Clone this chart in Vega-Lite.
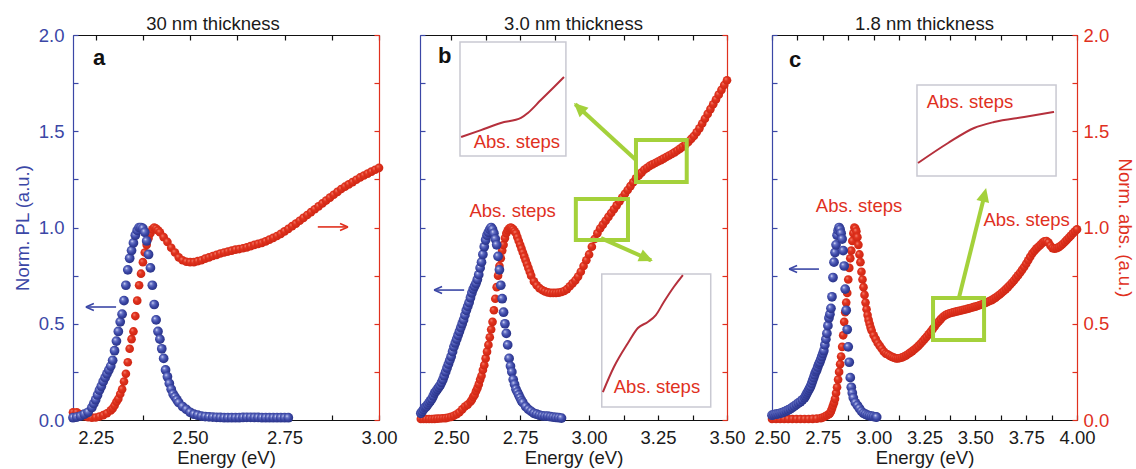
{
"$schema": "https://vega.github.io/schema/vega-lite/v6.json",
"padding": {"left": 13, "top": 14, "right": 2, "bottom": 2},
"config": {
  "font": "Liberation Sans",
  "view": {"stroke": null},
  "axis": {"grid": false, "tickSize": -5, "tickWidth": 1.2, "domainWidth": 1.2, "labelFontSize": 18.5, "titleFontSize": 18.5, "titleFontWeight": "normal", "labelPadding": 14, "labelFlush": false, "labelOverlap": false, "labelFont": "Liberation Sans", "titleFont": "Liberation Sans"},
  "axisBottom": {"labelPadding": 13, "titlePadding": 2},
  "axisRight": {"labelPadding": 11},
  "title": {"fontSize": 18.5, "fontWeight": "normal", "color": "#1a1a1a", "font": "Liberation Sans", "offset": -7},
  "text": {"font": "Liberation Sans"}
},
"datasets": {
  "aPL": [{"e":2.19,"v":0.012},{"e":2.20,"v":0.015},{"e":2.21,"v":0.02},{"e":2.22,"v":0.03},{"e":2.23,"v":0.04},{"e":2.24,"v":0.065},{"e":2.245,"v":0.085},{"e":2.25,"v":0.105},{"e":2.255,"v":0.13},{"e":2.26,"v":0.155},{"e":2.265,"v":0.175},{"e":2.27,"v":0.20},{"e":2.275,"v":0.22},{"e":2.28,"v":0.24},{"e":2.285,"v":0.26},{"e":2.29,"v":0.28},{"e":2.295,"v":0.31},{"e":2.30,"v":0.36},{"e":2.305,"v":0.41},{"e":2.31,"v":0.46},{"e":2.315,"v":0.51},{"e":2.32,"v":0.55},{"e":2.325,"v":0.62},{"e":2.33,"v":0.70},{"e":2.335,"v":0.78},{"e":2.34,"v":0.84},{"e":2.345,"v":0.88},{"e":2.35,"v":0.92},{"e":2.355,"v":0.96},{"e":2.36,"v":0.985},{"e":2.365,"v":1.0},{"e":2.37,"v":1.0},{"e":2.375,"v":0.995},{"e":2.38,"v":0.975},{"e":2.385,"v":0.93},{"e":2.39,"v":0.86},{"e":2.395,"v":0.79},{"e":2.40,"v":0.70},{"e":2.405,"v":0.60},{"e":2.41,"v":0.52},{"e":2.415,"v":0.46},{"e":2.42,"v":0.42},{"e":2.425,"v":0.37},{"e":2.43,"v":0.32},{"e":2.435,"v":0.26},{"e":2.44,"v":0.225},{"e":2.445,"v":0.19},{"e":2.45,"v":0.16},{"e":2.455,"v":0.135},{"e":2.46,"v":0.12},{"e":2.465,"v":0.105},{"e":2.47,"v":0.09},{"e":2.48,"v":0.07},{"e":2.49,"v":0.055},{"e":2.50,"v":0.04},{"e":2.51,"v":0.03},{"e":2.52,"v":0.025},{"e":2.53,"v":0.02},{"e":2.54,"v":0.018},{"e":2.55,"v":0.016},{"e":2.56,"v":0.015},{"e":2.57,"v":0.014},{"e":2.58,"v":0.013},{"e":2.59,"v":0.012},{"e":2.60,"v":0.012},{"e":2.61,"v":0.012},{"e":2.62,"v":0.012},{"e":2.63,"v":0.012},{"e":2.64,"v":0.013},{"e":2.65,"v":0.014},{"e":2.66,"v":0.014},{"e":2.67,"v":0.013},{"e":2.68,"v":0.013},{"e":2.69,"v":0.012},{"e":2.70,"v":0.012},{"e":2.71,"v":0.012},{"e":2.72,"v":0.012},{"e":2.73,"v":0.012},{"e":2.74,"v":0.012},{"e":2.75,"v":0.012},{"e":2.76,"v":0.012}],
  "aAbs": [{"e":2.19,"v":0.04},{"e":2.20,"v":0.04},{"e":2.21,"v":0.03},{"e":2.22,"v":0.02},{"e":2.23,"v":0.015},{"e":2.24,"v":0.012},{"e":2.25,"v":0.013},{"e":2.26,"v":0.018},{"e":2.27,"v":0.025},{"e":2.28,"v":0.035},{"e":2.29,"v":0.05},{"e":2.295,"v":0.06},{"e":2.30,"v":0.075},{"e":2.305,"v":0.095},{"e":2.31,"v":0.11},{"e":2.315,"v":0.135},{"e":2.32,"v":0.16},{"e":2.325,"v":0.20},{"e":2.33,"v":0.24},{"e":2.335,"v":0.30},{"e":2.34,"v":0.37},{"e":2.345,"v":0.42},{"e":2.35,"v":0.46},{"e":2.355,"v":0.54},{"e":2.36,"v":0.62},{"e":2.365,"v":0.70},{"e":2.37,"v":0.76},{"e":2.375,"v":0.82},{"e":2.38,"v":0.87},{"e":2.385,"v":0.91},{"e":2.39,"v":0.945},{"e":2.395,"v":0.97},{"e":2.40,"v":0.99},{"e":2.405,"v":1.0},{"e":2.41,"v":0.995},{"e":2.415,"v":0.985},{"e":2.42,"v":0.975},{"e":2.43,"v":0.95},{"e":2.44,"v":0.925},{"e":2.45,"v":0.895},{"e":2.46,"v":0.87},{"e":2.47,"v":0.845},{"e":2.48,"v":0.83},{"e":2.49,"v":0.822},{"e":2.50,"v":0.82},{"e":2.51,"v":0.82},{"e":2.52,"v":0.825},{"e":2.53,"v":0.83},{"e":2.54,"v":0.838},{"e":2.55,"v":0.845},{"e":2.56,"v":0.852},{"e":2.57,"v":0.858},{"e":2.58,"v":0.865},{"e":2.59,"v":0.87},{"e":2.60,"v":0.875},{"e":2.61,"v":0.88},{"e":2.62,"v":0.885},{"e":2.63,"v":0.888},{"e":2.64,"v":0.892},{"e":2.65,"v":0.897},{"e":2.66,"v":0.903},{"e":2.67,"v":0.91},{"e":2.68,"v":0.915},{"e":2.69,"v":0.92},{"e":2.70,"v":0.928},{"e":2.71,"v":0.937},{"e":2.72,"v":0.946},{"e":2.73,"v":0.956},{"e":2.74,"v":0.967},{"e":2.75,"v":0.98},{"e":2.76,"v":0.993},{"e":2.77,"v":1.007},{"e":2.78,"v":1.02},{"e":2.79,"v":1.035},{"e":2.80,"v":1.05},{"e":2.81,"v":1.065},{"e":2.82,"v":1.08},{"e":2.83,"v":1.095},{"e":2.84,"v":1.11},{"e":2.85,"v":1.125},{"e":2.86,"v":1.14},{"e":2.87,"v":1.155},{"e":2.88,"v":1.17},{"e":2.89,"v":1.185},{"e":2.90,"v":1.20},{"e":2.91,"v":1.212},{"e":2.92,"v":1.224},{"e":2.93,"v":1.236},{"e":2.94,"v":1.248},{"e":2.95,"v":1.26},{"e":2.96,"v":1.27},{"e":2.97,"v":1.28},{"e":2.98,"v":1.29},{"e":2.99,"v":1.30},{"e":3.00,"v":1.31}],
  "bPL": [{"e":2.39,"v":0.035},{"e":2.395,"v":0.045},{"e":2.40,"v":0.055},{"e":2.405,"v":0.065},{"e":2.41,"v":0.07},{"e":2.415,"v":0.08},{"e":2.42,"v":0.09},{"e":2.425,"v":0.10},{"e":2.43,"v":0.11},{"e":2.435,"v":0.125},{"e":2.44,"v":0.14},{"e":2.445,"v":0.15},{"e":2.45,"v":0.16},{"e":2.455,"v":0.17},{"e":2.46,"v":0.18},{"e":2.465,"v":0.195},{"e":2.47,"v":0.21},{"e":2.475,"v":0.23},{"e":2.48,"v":0.25},{"e":2.485,"v":0.27},{"e":2.49,"v":0.29},{"e":2.495,"v":0.31},{"e":2.50,"v":0.33},{"e":2.505,"v":0.355},{"e":2.51,"v":0.38},{"e":2.515,"v":0.40},{"e":2.52,"v":0.42},{"e":2.525,"v":0.44},{"e":2.53,"v":0.46},{"e":2.535,"v":0.48},{"e":2.54,"v":0.50},{"e":2.545,"v":0.52},{"e":2.55,"v":0.545},{"e":2.555,"v":0.57},{"e":2.56,"v":0.59},{"e":2.565,"v":0.61},{"e":2.57,"v":0.635},{"e":2.575,"v":0.66},{"e":2.58,"v":0.68},{"e":2.585,"v":0.695},{"e":2.59,"v":0.71},{"e":2.595,"v":0.73},{"e":2.60,"v":0.755},{"e":2.605,"v":0.79},{"e":2.61,"v":0.82},{"e":2.615,"v":0.86},{"e":2.62,"v":0.90},{"e":2.625,"v":0.935},{"e":2.63,"v":0.96},{"e":2.635,"v":0.975},{"e":2.64,"v":0.99},{"e":2.645,"v":1.0},{"e":2.65,"v":0.99},{"e":2.655,"v":0.97},{"e":2.66,"v":0.94},{"e":2.665,"v":0.91},{"e":2.67,"v":0.85},{"e":2.675,"v":0.78},{"e":2.68,"v":0.70},{"e":2.685,"v":0.63},{"e":2.69,"v":0.56},{"e":2.695,"v":0.50},{"e":2.70,"v":0.45},{"e":2.705,"v":0.39},{"e":2.71,"v":0.32},{"e":2.715,"v":0.28},{"e":2.72,"v":0.25},{"e":2.725,"v":0.21},{"e":2.73,"v":0.185},{"e":2.735,"v":0.16},{"e":2.74,"v":0.145},{"e":2.745,"v":0.13},{"e":2.75,"v":0.115},{"e":2.755,"v":0.10},{"e":2.76,"v":0.09},{"e":2.77,"v":0.07},{"e":2.78,"v":0.055},{"e":2.79,"v":0.045},{"e":2.80,"v":0.035},{"e":2.81,"v":0.03},{"e":2.82,"v":0.025},{"e":2.83,"v":0.022},{"e":2.84,"v":0.02},{"e":2.85,"v":0.02},{"e":2.86,"v":0.017},{"e":2.87,"v":0.015},{"e":2.88,"v":0.013},{"e":2.89,"v":0.012},{"e":2.90,"v":0.01}],
  "bAbs": [{"e":2.39,"v":0.005},{"e":2.40,"v":0.005},{"e":2.41,"v":0.005},{"e":2.42,"v":0.005},{"e":2.43,"v":0.005},{"e":2.44,"v":0.006},{"e":2.45,"v":0.007},{"e":2.46,"v":0.008},{"e":2.47,"v":0.009},{"e":2.48,"v":0.01},{"e":2.49,"v":0.013},{"e":2.50,"v":0.016},{"e":2.51,"v":0.022},{"e":2.52,"v":0.03},{"e":2.53,"v":0.04},{"e":2.54,"v":0.055},{"e":2.55,"v":0.07},{"e":2.56,"v":0.08},{"e":2.57,"v":0.095},{"e":2.575,"v":0.105},{"e":2.58,"v":0.12},{"e":2.585,"v":0.13},{"e":2.59,"v":0.15},{"e":2.595,"v":0.165},{"e":2.60,"v":0.185},{"e":2.605,"v":0.21},{"e":2.61,"v":0.23},{"e":2.615,"v":0.26},{"e":2.62,"v":0.285},{"e":2.625,"v":0.32},{"e":2.63,"v":0.355},{"e":2.635,"v":0.39},{"e":2.64,"v":0.43},{"e":2.645,"v":0.47},{"e":2.65,"v":0.51},{"e":2.655,"v":0.57},{"e":2.66,"v":0.63},{"e":2.665,"v":0.69},{"e":2.67,"v":0.75},{"e":2.675,"v":0.80},{"e":2.68,"v":0.84},{"e":2.685,"v":0.88},{"e":2.69,"v":0.91},{"e":2.695,"v":0.945},{"e":2.70,"v":0.97},{"e":2.705,"v":0.985},{"e":2.71,"v":0.995},{"e":2.715,"v":1.0},{"e":2.72,"v":0.997},{"e":2.725,"v":0.99},{"e":2.73,"v":0.98},{"e":2.735,"v":0.97},{"e":2.74,"v":0.95},{"e":2.745,"v":0.93},{"e":2.75,"v":0.91},{"e":2.755,"v":0.89},{"e":2.76,"v":0.87},{"e":2.765,"v":0.85},{"e":2.77,"v":0.83},{"e":2.775,"v":0.81},{"e":2.78,"v":0.79},{"e":2.785,"v":0.77},{"e":2.79,"v":0.75},{"e":2.80,"v":0.72},{"e":2.81,"v":0.70},{"e":2.82,"v":0.685},{"e":2.83,"v":0.675},{"e":2.84,"v":0.668},{"e":2.85,"v":0.663},{"e":2.86,"v":0.66},{"e":2.87,"v":0.66},{"e":2.88,"v":0.66},{"e":2.89,"v":0.662},{"e":2.90,"v":0.665},{"e":2.91,"v":0.67},{"e":2.92,"v":0.68},{"e":2.93,"v":0.695},{"e":2.94,"v":0.71},{"e":2.95,"v":0.725},{"e":2.96,"v":0.745},{"e":2.97,"v":0.77},{"e":2.98,"v":0.80},{"e":2.99,"v":0.83},{"e":3.00,"v":0.86},{"e":3.01,"v":0.90},{"e":3.02,"v":0.94},{"e":3.03,"v":0.97},{"e":3.04,"v":0.995},{"e":3.05,"v":1.015},{"e":3.06,"v":1.035},{"e":3.07,"v":1.055},{"e":3.08,"v":1.075},{"e":3.09,"v":1.095},{"e":3.10,"v":1.115},{"e":3.11,"v":1.135},{"e":3.12,"v":1.155},{"e":3.13,"v":1.175},{"e":3.14,"v":1.195},{"e":3.15,"v":1.215},{"e":3.16,"v":1.235},{"e":3.17,"v":1.255},{"e":3.18,"v":1.27},{"e":3.19,"v":1.285},{"e":3.20,"v":1.30},{"e":3.21,"v":1.31},{"e":3.22,"v":1.32},{"e":3.23,"v":1.328},{"e":3.24,"v":1.335},{"e":3.25,"v":1.343},{"e":3.26,"v":1.35},{"e":3.27,"v":1.358},{"e":3.28,"v":1.366},{"e":3.29,"v":1.374},{"e":3.30,"v":1.382},{"e":3.31,"v":1.39},{"e":3.32,"v":1.40},{"e":3.33,"v":1.41},{"e":3.34,"v":1.42},{"e":3.35,"v":1.432},{"e":3.36,"v":1.445},{"e":3.37,"v":1.46},{"e":3.38,"v":1.475},{"e":3.39,"v":1.495},{"e":3.40,"v":1.515},{"e":3.41,"v":1.54},{"e":3.42,"v":1.565},{"e":3.43,"v":1.59},{"e":3.44,"v":1.615},{"e":3.45,"v":1.64},{"e":3.46,"v":1.665},{"e":3.47,"v":1.69},{"e":3.48,"v":1.715},{"e":3.49,"v":1.74},{"e":3.50,"v":1.765}],
  "cPL": [{"e":2.50,"v":0.025},{"e":2.51,"v":0.028},{"e":2.52,"v":0.03},{"e":2.53,"v":0.032},{"e":2.54,"v":0.035},{"e":2.55,"v":0.038},{"e":2.56,"v":0.042},{"e":2.57,"v":0.047},{"e":2.58,"v":0.052},{"e":2.59,"v":0.058},{"e":2.60,"v":0.065},{"e":2.61,"v":0.072},{"e":2.62,"v":0.08},{"e":2.63,"v":0.088},{"e":2.64,"v":0.095},{"e":2.65,"v":0.105},{"e":2.66,"v":0.115},{"e":2.665,"v":0.125},{"e":2.67,"v":0.135},{"e":2.675,"v":0.145},{"e":2.68,"v":0.155},{"e":2.685,"v":0.165},{"e":2.69,"v":0.175},{"e":2.695,"v":0.19},{"e":2.70,"v":0.205},{"e":2.705,"v":0.22},{"e":2.71,"v":0.235},{"e":2.715,"v":0.25},{"e":2.72,"v":0.26},{"e":2.725,"v":0.275},{"e":2.73,"v":0.29},{"e":2.735,"v":0.30},{"e":2.74,"v":0.315},{"e":2.745,"v":0.33},{"e":2.75,"v":0.345},{"e":2.755,"v":0.36},{"e":2.76,"v":0.39},{"e":2.765,"v":0.42},{"e":2.77,"v":0.45},{"e":2.775,"v":0.49},{"e":2.78,"v":0.53},{"e":2.785,"v":0.55},{"e":2.79,"v":0.58},{"e":2.795,"v":0.64},{"e":2.80,"v":0.74},{"e":2.805,"v":0.82},{"e":2.81,"v":0.87},{"e":2.815,"v":0.91},{"e":2.82,"v":0.96},{"e":2.825,"v":0.985},{"e":2.83,"v":1.0},{"e":2.835,"v":0.99},{"e":2.84,"v":0.97},{"e":2.845,"v":0.94},{"e":2.85,"v":0.88},{"e":2.855,"v":0.80},{"e":2.86,"v":0.68},{"e":2.865,"v":0.57},{"e":2.87,"v":0.47},{"e":2.875,"v":0.38},{"e":2.88,"v":0.30},{"e":2.885,"v":0.22},{"e":2.89,"v":0.17},{"e":2.895,"v":0.14},{"e":2.90,"v":0.115},{"e":2.91,"v":0.09},{"e":2.92,"v":0.075},{"e":2.93,"v":0.06},{"e":2.94,"v":0.045},{"e":2.95,"v":0.035},{"e":2.96,"v":0.03},{"e":2.97,"v":0.025},{"e":2.98,"v":0.022},{"e":2.99,"v":0.02},{"e":3.00,"v":0.018},{"e":3.01,"v":0.016},{"e":3.015,"v":0.015}],
  "cAbs": [{"e":2.50,"v":0.005},{"e":2.52,"v":0.005},{"e":2.54,"v":0.005},{"e":2.56,"v":0.005},{"e":2.58,"v":0.005},{"e":2.60,"v":0.005},{"e":2.62,"v":0.005},{"e":2.64,"v":0.005},{"e":2.66,"v":0.005},{"e":2.68,"v":0.005},{"e":2.70,"v":0.006},{"e":2.72,"v":0.007},{"e":2.74,"v":0.01},{"e":2.75,"v":0.013},{"e":2.76,"v":0.018},{"e":2.77,"v":0.024},{"e":2.78,"v":0.03},{"e":2.785,"v":0.035},{"e":2.79,"v":0.045},{"e":2.795,"v":0.06},{"e":2.80,"v":0.075},{"e":2.805,"v":0.09},{"e":2.81,"v":0.11},{"e":2.815,"v":0.14},{"e":2.82,"v":0.17},{"e":2.825,"v":0.21},{"e":2.83,"v":0.25},{"e":2.835,"v":0.29},{"e":2.84,"v":0.33},{"e":2.845,"v":0.38},{"e":2.85,"v":0.44},{"e":2.855,"v":0.51},{"e":2.86,"v":0.56},{"e":2.865,"v":0.61},{"e":2.87,"v":0.66},{"e":2.875,"v":0.73},{"e":2.88,"v":0.79},{"e":2.885,"v":0.84},{"e":2.89,"v":0.88},{"e":2.895,"v":0.93},{"e":2.90,"v":0.97},{"e":2.905,"v":1.0},{"e":2.91,"v":0.995},{"e":2.915,"v":0.98},{"e":2.92,"v":0.95},{"e":2.925,"v":0.91},{"e":2.93,"v":0.86},{"e":2.935,"v":0.82},{"e":2.94,"v":0.77},{"e":2.945,"v":0.73},{"e":2.95,"v":0.69},{"e":2.955,"v":0.65},{"e":2.96,"v":0.61},{"e":2.965,"v":0.575},{"e":2.97,"v":0.545},{"e":2.975,"v":0.52},{"e":2.98,"v":0.50},{"e":2.985,"v":0.48},{"e":2.99,"v":0.465},{"e":3.00,"v":0.44},{"e":3.01,"v":0.42},{"e":3.02,"v":0.40},{"e":3.03,"v":0.385},{"e":3.04,"v":0.37},{"e":3.05,"v":0.355},{"e":3.06,"v":0.345},{"e":3.07,"v":0.34},{"e":3.08,"v":0.333},{"e":3.09,"v":0.328},{"e":3.10,"v":0.324},{"e":3.11,"v":0.32},{"e":3.12,"v":0.32},{"e":3.13,"v":0.322},{"e":3.14,"v":0.325},{"e":3.15,"v":0.33},{"e":3.16,"v":0.336},{"e":3.17,"v":0.343},{"e":3.18,"v":0.35},{"e":3.19,"v":0.358},{"e":3.20,"v":0.366},{"e":3.21,"v":0.375},{"e":3.22,"v":0.385},{"e":3.23,"v":0.396},{"e":3.24,"v":0.408},{"e":3.25,"v":0.42},{"e":3.26,"v":0.432},{"e":3.27,"v":0.445},{"e":3.28,"v":0.458},{"e":3.29,"v":0.472},{"e":3.30,"v":0.486},{"e":3.31,"v":0.50},{"e":3.32,"v":0.512},{"e":3.33,"v":0.524},{"e":3.34,"v":0.535},{"e":3.35,"v":0.543},{"e":3.36,"v":0.549},{"e":3.37,"v":0.553},{"e":3.38,"v":0.556},{"e":3.39,"v":0.559},{"e":3.40,"v":0.562},{"e":3.41,"v":0.564},{"e":3.42,"v":0.567},{"e":3.43,"v":0.569},{"e":3.44,"v":0.572},{"e":3.45,"v":0.574},{"e":3.46,"v":0.577},{"e":3.47,"v":0.58},{"e":3.48,"v":0.583},{"e":3.49,"v":0.586},{"e":3.50,"v":0.589},{"e":3.51,"v":0.592},{"e":3.52,"v":0.596},{"e":3.53,"v":0.60},{"e":3.54,"v":0.604},{"e":3.55,"v":0.608},{"e":3.56,"v":0.613},{"e":3.57,"v":0.618},{"e":3.58,"v":0.623},{"e":3.59,"v":0.629},{"e":3.60,"v":0.636},{"e":3.61,"v":0.644},{"e":3.62,"v":0.652},{"e":3.63,"v":0.661},{"e":3.64,"v":0.67},{"e":3.65,"v":0.68},{"e":3.66,"v":0.69},{"e":3.67,"v":0.701},{"e":3.68,"v":0.713},{"e":3.69,"v":0.725},{"e":3.70,"v":0.738},{"e":3.71,"v":0.751},{"e":3.72,"v":0.765},{"e":3.73,"v":0.78},{"e":3.74,"v":0.795},{"e":3.75,"v":0.812},{"e":3.76,"v":0.83},{"e":3.77,"v":0.848},{"e":3.78,"v":0.865},{"e":3.79,"v":0.878},{"e":3.80,"v":0.89},{"e":3.81,"v":0.90},{"e":3.82,"v":0.91},{"e":3.83,"v":0.92},{"e":3.84,"v":0.928},{"e":3.85,"v":0.93},{"e":3.86,"v":0.922},{"e":3.87,"v":0.905},{"e":3.88,"v":0.893},{"e":3.89,"v":0.89},{"e":3.90,"v":0.893},{"e":3.91,"v":0.898},{"e":3.92,"v":0.905},{"e":3.93,"v":0.914},{"e":3.94,"v":0.925},{"e":3.95,"v":0.936},{"e":3.96,"v":0.947},{"e":3.97,"v":0.958},{"e":3.98,"v":0.97},{"e":3.99,"v":0.98},{"e":4.00,"v":0.99}]
},
"hconcat": [
{
  "width": 306, "height": 385,
  "title": {"text": "30 nm thickness", "dx": -13},
  "encoding": {
    "x": {"field": "e", "type": "quantitative", "scale": {"domain": [2.19, 3.0], "nice": false, "zero": false}, "axis": null},
    "y": {"field": "v", "type": "quantitative", "scale": {"domain": [0, 2], "nice": false}, "axis": null}
  },
  "layer": [
    {"data": {"name": "aAbs"},
     "mark": {"type": "point", "shape": "circle", "filled": true, "size": 75, "opacity": 1, "fill": {"gradient": "radial", "x1": 0.35, "y1": 0.32, "r1": 0, "x2": 0.45, "y2": 0.45, "r2": 0.6, "stops": [{"offset": 0, "color": "#f58a78"}, {"offset": 0.35, "color": "#e2341f"}, {"offset": 1, "color": "#cc2412"}]}},
     "encoding": {
       "x": {"field": "e", "type": "quantitative", "scale": {"domain": [2.19, 3.0], "nice": false, "zero": false}, "axis": {"orient": "top", "values": [2.25, 2.375, 2.5, 2.625, 2.75, 2.875, 3.0], "labels": false, "title": null, "domainColor": "#111", "tickColor": "#111"}},
       "y": {"field": "v", "type": "quantitative", "scale": {"domain": [0, 2], "nice": false}, "axis": {"orient": "right", "values": [0, 0.25, 0.5, 0.75, 1, 1.25, 1.5, 1.75, 2], "labels": false, "title": null, "domainColor": "#e0301e", "tickColor": "#e0301e"}}
     }},
    {"data": {"name": "aPL"},
     "mark": {"type": "point", "shape": "circle", "filled": true, "size": 95, "opacity": 1, "fill": {"gradient": "radial", "x1": 0.35, "y1": 0.32, "r1": 0, "x2": 0.45, "y2": 0.45, "r2": 0.6, "stops": [{"offset": 0, "color": "#e8ecff"}, {"offset": 0.25, "color": "#6a76c8"}, {"offset": 0.6, "color": "#3a46a5"}, {"offset": 1, "color": "#262f80"}]}},
     "encoding": {
       "x": {"field": "e", "type": "quantitative", "scale": {"domain": [2.19, 3.0], "nice": false, "zero": false}, "axis": {"orient": "bottom", "values": [2.25, 2.375, 2.5, 2.625, 2.75, 2.875, 3.0], "labelExpr": "abs(datum.value*4 - round(datum.value*4)) < 0.001 ? format(datum.value, '.2f') : ''", "title": "Energy (eV)", "domainColor": "#111", "tickColor": "#111", "labelColor": "#1a1a1a", "titleColor": "#1a1a1a"}},
       "y": {"field": "v", "type": "quantitative", "scale": {"domain": [0, 2], "nice": false}, "axis": {"orient": "left", "values": [0, 0.25, 0.5, 0.75, 1, 1.25, 1.5, 1.75, 2], "labelExpr": "abs(datum.value*2 - round(datum.value*2)) < 0.001 ? format(datum.value, '.1f') : ''", "title": "Norm. PL (a.u.)", "titlePadding": 6, "domainColor": "#3b47a6", "tickColor": "#3b47a6", "labelColor": "#3b47a6", "titleColor": "#3b47a6"}}
     }},
    {"data": {"values": [{"e": 2.243, "v": 1.844, "t": "a"}]},
     "mark": {"type": "text", "fontSize": 22, "fontWeight": "bold", "align": "left", "baseline": "alphabetic", "color": "#111"},
     "encoding": {"text": {"field": "t"}}},
    {"data": {"values": [{"e": 2.304, "v": 0.587, "e2": 2.226, "v2": 0.587, "c": "b"}, {"e": 2.838, "v": 1.003, "e2": 2.916, "v2": 1.003, "c": "r"}]},
     "mark": {"type": "rule", "strokeWidth": 1.6},
     "encoding": {"x2": {"field": "e2"}, "y2": {"field": "v2"}, "color": {"field": "c", "type": "nominal", "scale": {"domain": ["b", "r", "g"], "range": ["#3b47a6", "#e0301e", "#a4d13b"]}, "legend": null}}},
    {"data": {"values": [{"e": 2.224, "v": 0.587, "a": 0, "c": "b"}, {"e": 2.918, "v": 1.003, "a": 180, "c": "r"}]},
     "mark": {"type": "point", "shape": "M0,0L1.6,-0.7M0,0L1.6,0.7", "filled": false, "size": 100, "strokeWidth": 1.6, "opacity": 1},
     "encoding": {"angle": {"field": "a", "type": "quantitative", "scale": null}, "color": {"field": "c", "type": "nominal", "scale": {"domain": ["b", "r", "g"], "range": ["#3b47a6", "#e0301e", "#a4d13b"]}, "legend": null}}}
  ],
  "resolve": {"axis": {"x": "independent", "y": "independent"}}
},
{
  "hconcat": [
  {
    "width": 307, "height": 385,
    "title": {"text": "3.0 nm thickness", "offset": 1},
    "encoding": {
      "x": {"field": "e", "type": "quantitative", "scale": {"domain": [2.387, 3.5], "nice": false, "zero": false}, "axis": null},
      "y": {"field": "v", "type": "quantitative", "scale": {"domain": [0, 2], "nice": false}, "axis": null}
    },
    "layer": [
      {"data": {"name": "bAbs"},
       "mark": {"type": "point", "shape": "circle", "filled": true, "size": 75, "opacity": 1, "fill": {"gradient": "radial", "x1": 0.35, "y1": 0.32, "r1": 0, "x2": 0.45, "y2": 0.45, "r2": 0.6, "stops": [{"offset": 0, "color": "#f58a78"}, {"offset": 0.35, "color": "#e2341f"}, {"offset": 1, "color": "#cc2412"}]}},
       "encoding": {
         "x": {"field": "e", "type": "quantitative", "scale": {"domain": [2.387, 3.5], "nice": false, "zero": false}, "axis": {"orient": "top", "values": [2.5, 2.625, 2.75, 2.875, 3.0, 3.125, 3.25, 3.375, 3.5], "labels": false, "title": null, "domainColor": "#111", "tickColor": "#111"}},
         "y": {"field": "v", "type": "quantitative", "scale": {"domain": [0, 2], "nice": false}, "axis": {"orient": "right", "values": [0, 0.25, 0.5, 0.75, 1, 1.25, 1.5, 1.75, 2], "labels": false, "title": null, "domainColor": "#e0301e", "tickColor": "#e0301e"}}
       }},
      {"data": {"name": "bPL"},
       "mark": {"type": "point", "shape": "circle", "filled": true, "size": 95, "opacity": 1, "fill": {"gradient": "radial", "x1": 0.35, "y1": 0.32, "r1": 0, "x2": 0.45, "y2": 0.45, "r2": 0.6, "stops": [{"offset": 0, "color": "#e8ecff"}, {"offset": 0.25, "color": "#6a76c8"}, {"offset": 0.6, "color": "#3a46a5"}, {"offset": 1, "color": "#262f80"}]}},
       "encoding": {
         "x": {"field": "e", "type": "quantitative", "scale": {"domain": [2.387, 3.5], "nice": false, "zero": false}, "axis": {"orient": "bottom", "values": [2.5, 2.625, 2.75, 2.875, 3.0, 3.125, 3.25, 3.375, 3.5], "labelExpr": "abs(datum.value*4 - round(datum.value*4)) < 0.001 ? format(datum.value, '.2f') : ''", "title": "Energy (eV)", "domainColor": "#111", "tickColor": "#111", "labelColor": "#1a1a1a", "titleColor": "#1a1a1a"}},
         "y": {"field": "v", "type": "quantitative", "scale": {"domain": [0, 2], "nice": false}, "axis": {"orient": "left", "values": [0, 0.25, 0.5, 0.75, 1, 1.25, 1.5, 1.75, 2], "labels": false, "title": null, "domainColor": "#3b47a6", "tickColor": "#3b47a6"}}
       }},
      {"data": {"values": [{"e": 2.532, "e2": 2.916, "v": 1.371, "v2": 1.964}, {"e": 3.046, "e2": 3.441, "v": 0.068, "v2": 0.758}]},
       "mark": {"type": "rect", "fill": "white", "stroke": "#c9c9d2", "strokeWidth": 1.5},
       "encoding": {"x2": {"field": "e2"}, "y2": {"field": "v2"}}},
      {"data": {"values": [{"e": 2.536, "v": 1.470, "g": 1}, {"e": 2.608, "v": 1.506, "g": 1}, {"e": 2.680, "v": 1.543, "g": 1}, {"e": 2.753, "v": 1.569, "g": 1}, {"e": 2.778, "v": 1.595, "g": 1}, {"e": 2.825, "v": 1.662, "g": 1}, {"e": 2.873, "v": 1.730, "g": 1}, {"e": 2.909, "v": 1.782, "g": 1}, {"e": 3.050, "v": 0.145, "g": 2}, {"e": 3.090, "v": 0.275, "g": 2}, {"e": 3.141, "v": 0.400, "g": 2}, {"e": 3.177, "v": 0.478, "g": 2}, {"e": 3.213, "v": 0.509, "g": 2}, {"e": 3.242, "v": 0.545, "g": 2}, {"e": 3.271, "v": 0.613, "g": 2}, {"e": 3.307, "v": 0.691, "g": 2}, {"e": 3.340, "v": 0.753, "g": 2}]},
       "mark": {"type": "line", "color": "#b5303c", "strokeWidth": 2, "interpolate": "monotone"},
       "encoding": {"detail": {"field": "g"}}},
      {"data": {"values": [{"e": 2.723, "v": 1.055, "t": "Abs. steps"}, {"e": 2.738, "v": 1.413, "t": "Abs. steps"}, {"e": 3.246, "v": 0.140, "t": "Abs. steps"}]},
       "mark": {"type": "text", "fontSize": 18.5, "color": "#e0301e", "align": "center", "baseline": "alphabetic"},
       "encoding": {"text": {"field": "t"}}},
      {"data": {"values": [{"e": 3.170, "e2": 3.354, "v": 1.236, "v2": 1.455}, {"e": 2.952, "e2": 3.141, "v": 0.935, "v2": 1.148}]},
       "mark": {"type": "rect", "filled": false, "stroke": "#a4d13b", "strokeWidth": 4},
       "encoding": {"x2": {"field": "e2"}, "y2": {"field": "v2"}}},
      {"data": {"values": [{"e": 3.170, "v": 1.351, "e2": 2.950, "v2": 1.640, "c": "g"}, {"e": 3.043, "v": 0.945, "e2": 3.225, "v2": 0.829, "c": "g"}, {"e": 2.547, "v": 0.675, "e2": 2.440, "v2": 0.675, "c": "b"}]},
       "mark": {"type": "rule"},
       "encoding": {"x2": {"field": "e2"}, "y2": {"field": "v2"}, "strokeWidth": {"condition": {"test": "datum.c == 'g'", "value": 4}, "value": 1.6}, "color": {"field": "c", "type": "nominal", "scale": {"domain": ["b", "r", "g"], "range": ["#3b47a6", "#e0301e", "#a4d13b"]}, "legend": null}}},
      {"data": {"values": [{"e": 2.945, "v": 1.647, "a": 313, "c": "g"}, {"e": 3.231, "v": 0.826, "a": 114, "c": "g"}]},
       "mark": {"type": "point", "shape": "M0,0L0.75,1.6L-0.75,1.6Z", "filled": true, "size": 300, "opacity": 1},
       "encoding": {"angle": {"field": "a", "type": "quantitative", "scale": null}, "color": {"field": "c", "type": "nominal", "scale": {"domain": ["b", "r", "g"], "range": ["#3b47a6", "#e0301e", "#a4d13b"]}, "legend": null}}},
      {"data": {"values": [{"e": 2.438, "v": 0.675, "a": 0, "c": "b"}]},
       "mark": {"type": "point", "shape": "M0,0L1.6,-0.7M0,0L1.6,0.7", "filled": false, "size": 100, "strokeWidth": 1.6, "opacity": 1},
       "encoding": {"angle": {"field": "a", "type": "quantitative", "scale": null}, "color": {"field": "c", "type": "nominal", "scale": {"domain": ["b", "r", "g"], "range": ["#3b47a6", "#e0301e", "#a4d13b"]}, "legend": null}}},
      {"data": {"values": [{"e": 2.452, "v": 1.855, "t": "b"}]},
       "mark": {"type": "text", "fontSize": 22, "fontWeight": "bold", "align": "left", "baseline": "alphabetic", "color": "#111"},
       "encoding": {"text": {"field": "t"}}}
    ],
    "resolve": {"axis": {"x": "independent", "y": "independent"}}
  },
  {
    "width": 305, "height": 385,
    "title": {"text": "1.8 nm thickness"},
    "encoding": {
      "x": {"field": "e", "type": "quantitative", "scale": {"domain": [2.5, 4.0], "nice": false, "zero": false}, "axis": null},
      "y": {"field": "v", "type": "quantitative", "scale": {"domain": [0, 2], "nice": false}, "axis": null}
    },
    "layer": [
      {"data": {"name": "cAbs"},
       "mark": {"type": "point", "shape": "circle", "filled": true, "size": 75, "opacity": 1, "fill": {"gradient": "radial", "x1": 0.35, "y1": 0.32, "r1": 0, "x2": 0.45, "y2": 0.45, "r2": 0.6, "stops": [{"offset": 0, "color": "#f58a78"}, {"offset": 0.35, "color": "#e2341f"}, {"offset": 1, "color": "#cc2412"}]}},
       "encoding": {
         "x": {"field": "e", "type": "quantitative", "scale": {"domain": [2.5, 4.0], "nice": false, "zero": false}, "axis": {"orient": "top", "values": [2.5, 2.625, 2.75, 2.875, 3.0, 3.125, 3.25, 3.375, 3.5, 3.625, 3.75, 3.875, 4.0], "labels": false, "title": null, "domainColor": "#111", "tickColor": "#111"}},
         "y": {"field": "v", "type": "quantitative", "scale": {"domain": [0, 2], "nice": false}, "axis": {"orient": "right", "values": [0, 0.25, 0.5, 0.75, 1, 1.25, 1.5, 1.75, 2], "labelExpr": "abs(datum.value*2 - round(datum.value*2)) < 0.001 ? format(datum.value, '.1f') : ''", "title": "Norm. abs. (a.u.)", "titlePadding": 6, "domainColor": "#e0301e", "tickColor": "#e0301e", "labelColor": "#e0301e", "titleColor": "#e0301e"}}
       }},
      {"data": {"name": "cPL"},
       "mark": {"type": "point", "shape": "circle", "filled": true, "size": 95, "opacity": 1, "fill": {"gradient": "radial", "x1": 0.35, "y1": 0.32, "r1": 0, "x2": 0.45, "y2": 0.45, "r2": 0.6, "stops": [{"offset": 0, "color": "#e8ecff"}, {"offset": 0.25, "color": "#6a76c8"}, {"offset": 0.6, "color": "#3a46a5"}, {"offset": 1, "color": "#262f80"}]}},
       "encoding": {
         "x": {"field": "e", "type": "quantitative", "scale": {"domain": [2.5, 4.0], "nice": false, "zero": false}, "axis": {"orient": "bottom", "values": [2.5, 2.625, 2.75, 2.875, 3.0, 3.125, 3.25, 3.375, 3.5, 3.625, 3.75, 3.875, 4.0], "labelExpr": "abs(datum.value*4 - round(datum.value*4)) < 0.001 ? format(datum.value, '.2f') : ''", "title": "Energy (eV)", "domainColor": "#111", "tickColor": "#111", "labelColor": "#1a1a1a", "titleColor": "#1a1a1a"}},
         "y": {"field": "v", "type": "quantitative", "scale": {"domain": [0, 2], "nice": false}, "axis": {"orient": "left", "values": [0, 0.25, 0.5, 0.75, 1, 1.25, 1.5, 1.75, 2], "labels": false, "title": null, "domainColor": "#3b47a6", "tickColor": "#3b47a6"}}
       }},
      {"data": {"values": [{"e": 3.213, "e2": 3.897, "v": 1.268, "v2": 1.740}]},
       "mark": {"type": "rect", "fill": "white", "stroke": "#c9c9d2", "strokeWidth": 1.5},
       "encoding": {"x2": {"field": "e2"}, "y2": {"field": "v2"}}},
      {"data": {"values": [{"e": 3.218, "v": 1.335}, {"e": 3.366, "v": 1.439}, {"e": 3.494, "v": 1.517}, {"e": 3.592, "v": 1.548}, {"e": 3.740, "v": 1.574}, {"e": 3.887, "v": 1.600}]},
       "mark": {"type": "line", "color": "#b5303c", "strokeWidth": 2, "interpolate": "monotone"}},
      {"data": {"values": [{"e": 2.928, "v": 1.08, "t": "Abs. steps"}, {"e": 3.752, "v": 1.008, "t": "Abs. steps"}, {"e": 3.474, "v": 1.622, "t": "Abs. steps"}]},
       "mark": {"type": "text", "fontSize": 18.5, "color": "#e0301e", "align": "center", "baseline": "alphabetic"},
       "encoding": {"text": {"field": "t"}}},
      {"data": {"values": [{"e": 3.292, "e2": 3.543, "v": 0.416, "v2": 0.634}]},
       "mark": {"type": "rect", "filled": false, "stroke": "#a4d13b", "strokeWidth": 4},
       "encoding": {"x2": {"field": "e2"}, "y2": {"field": "v2"}}},
      {"data": {"values": [{"e": 3.421, "v": 0.641, "e2": 3.548, "v2": 1.18, "c": "g"}, {"e": 2.731, "v": 0.784, "e2": 2.586, "v2": 0.784, "c": "b"}]},
       "mark": {"type": "rule"},
       "encoding": {"x2": {"field": "e2"}, "y2": {"field": "v2"}, "strokeWidth": {"condition": {"test": "datum.c == 'g'", "value": 4}, "value": 1.6}, "color": {"field": "c", "type": "nominal", "scale": {"domain": ["b", "r", "g"], "range": ["#3b47a6", "#e0301e", "#a4d13b"]}, "legend": null}}},
      {"data": {"values": [{"e": 3.553, "v": 1.205, "a": 14, "c": "g"}]},
       "mark": {"type": "point", "shape": "M0,0L0.75,1.6L-0.75,1.6Z", "filled": true, "size": 300, "opacity": 1},
       "encoding": {"angle": {"field": "a", "type": "quantitative", "scale": null}, "color": {"field": "c", "type": "nominal", "scale": {"domain": ["b", "r", "g"], "range": ["#3b47a6", "#e0301e", "#a4d13b"]}, "legend": null}}},
      {"data": {"values": [{"e": 2.584, "v": 0.784, "a": 0, "c": "b"}]},
       "mark": {"type": "point", "shape": "M0,0L1.6,-0.7M0,0L1.6,0.7", "filled": false, "size": 100, "strokeWidth": 1.6, "opacity": 1},
       "encoding": {"angle": {"field": "a", "type": "quantitative", "scale": null}, "color": {"field": "c", "type": "nominal", "scale": {"domain": ["b", "r", "g"], "range": ["#3b47a6", "#e0301e", "#a4d13b"]}, "legend": null}}},
      {"data": {"values": [{"e": 2.584, "v": 1.834, "t": "c"}]},
       "mark": {"type": "text", "fontSize": 22, "fontWeight": "bold", "align": "left", "baseline": "alphabetic", "color": "#111"},
       "encoding": {"text": {"field": "t"}}}
    ],
    "resolve": {"axis": {"x": "independent", "y": "independent"}}
  }
  ],
  "spacing": 45,
  "bounds": "flush"
}
],
"spacing": 41,
"bounds": "flush"
}
